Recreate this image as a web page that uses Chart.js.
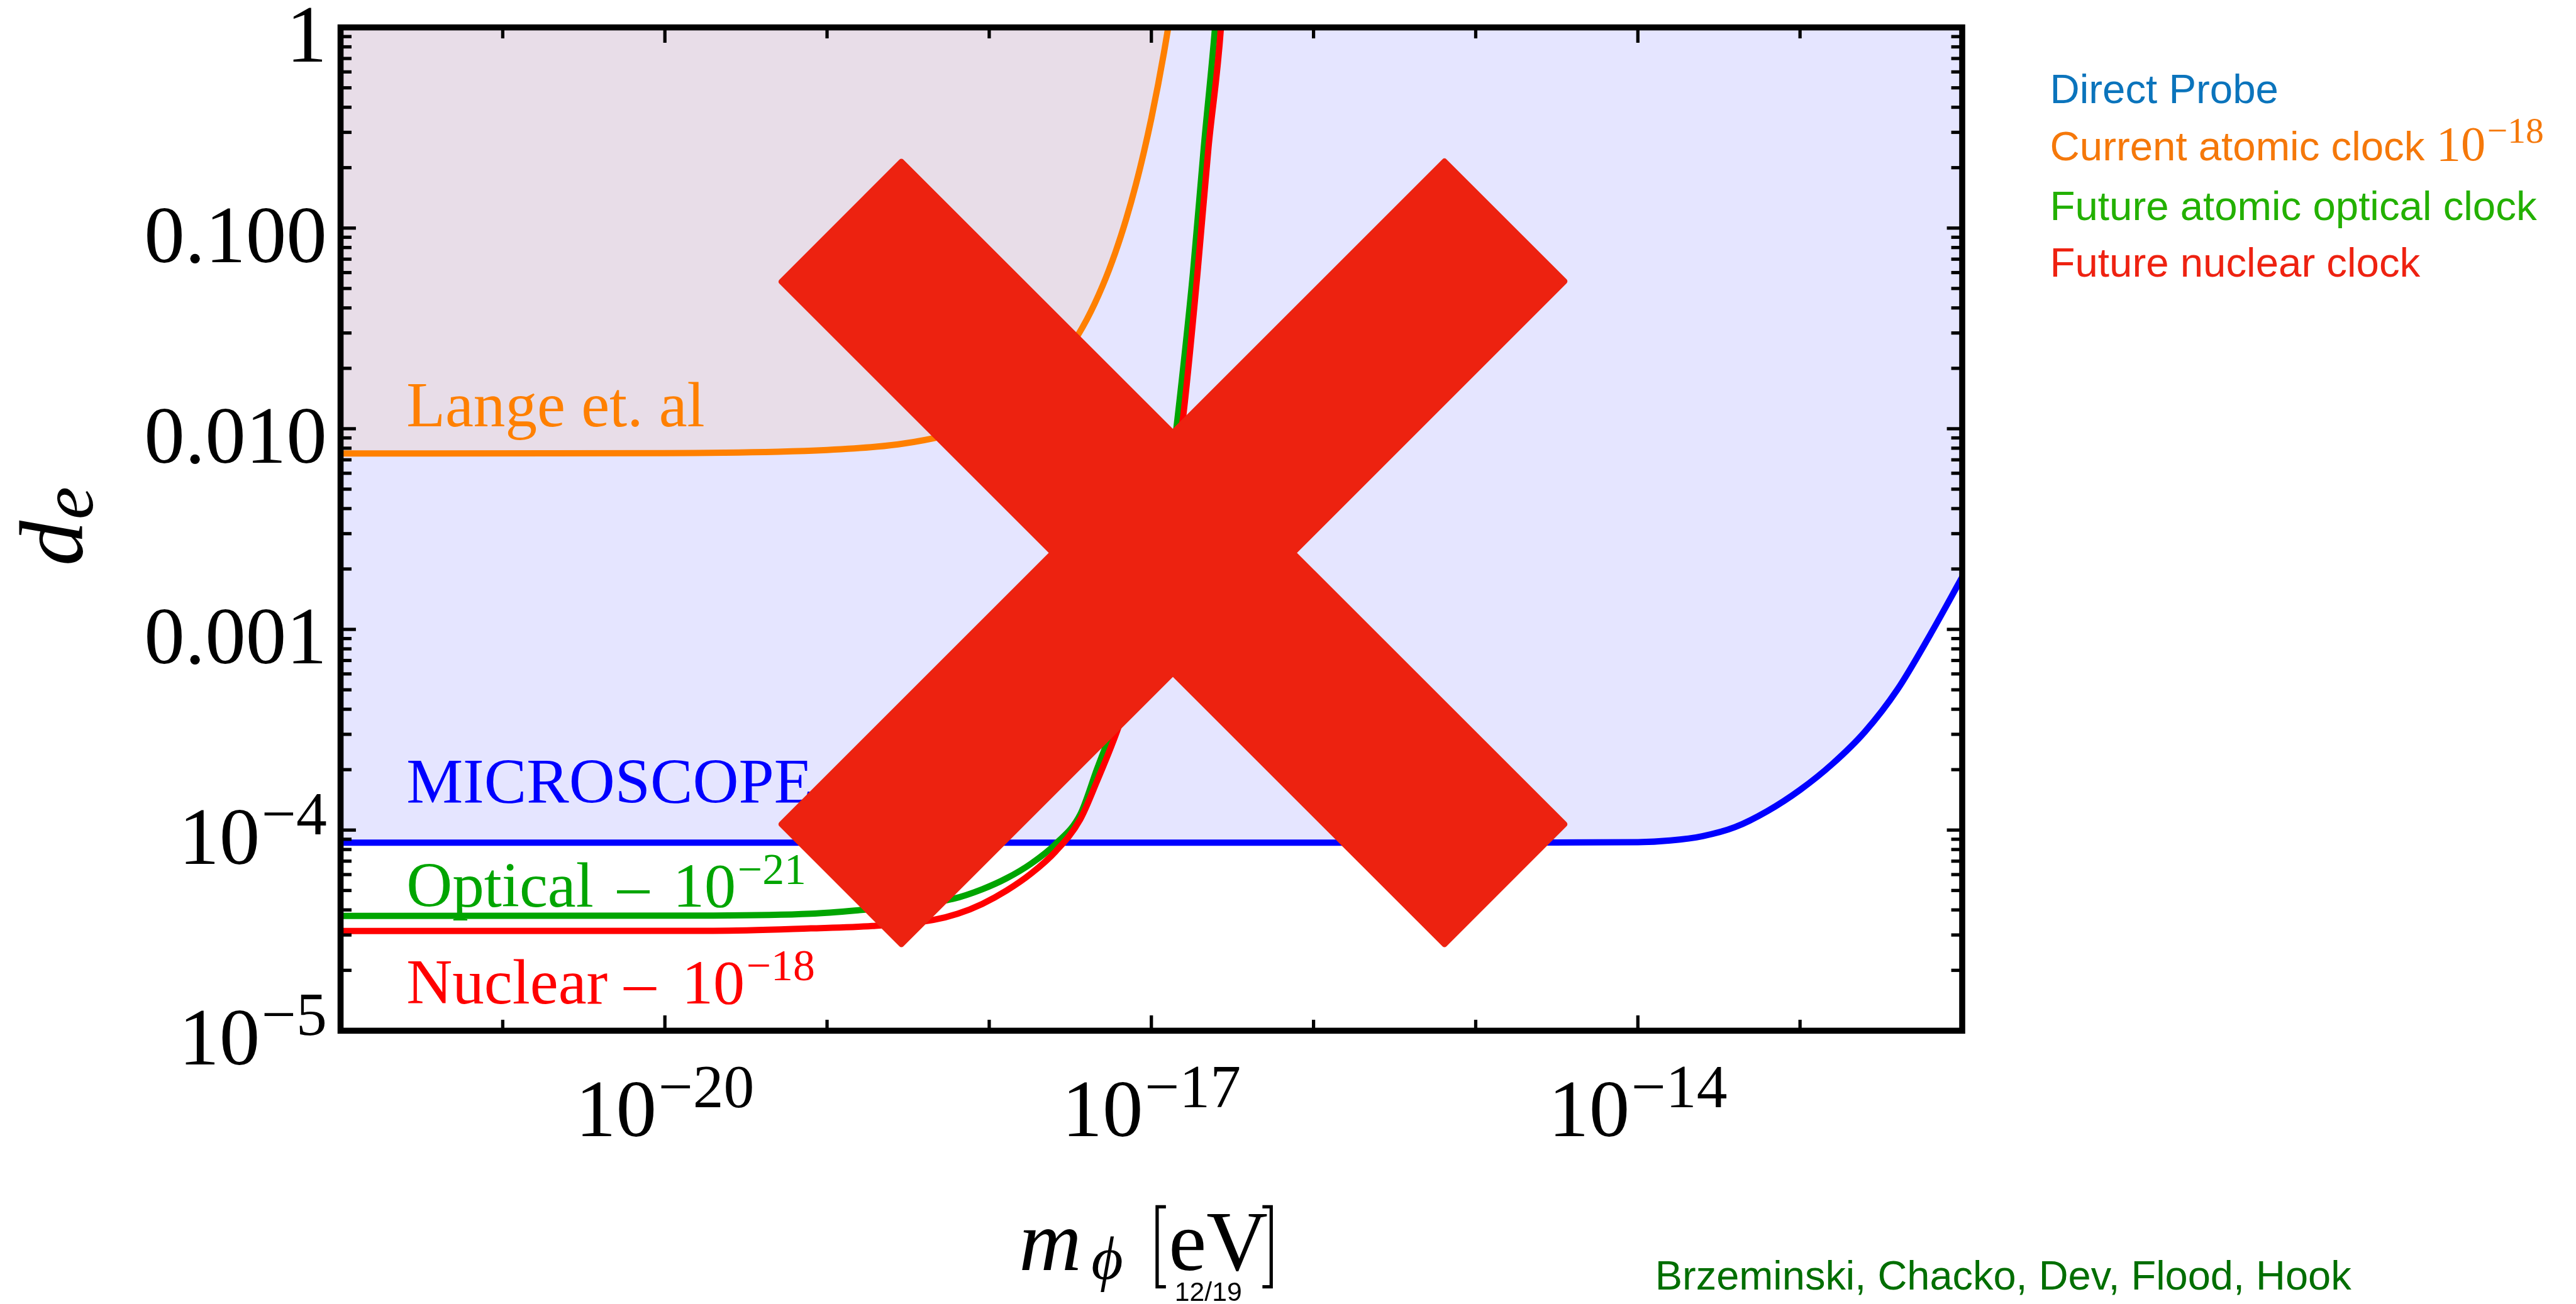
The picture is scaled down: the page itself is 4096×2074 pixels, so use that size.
<!DOCTYPE html>
<html>
<head>
<meta charset="utf-8">
<script src="https://cdn.jsdelivr.net/npm/chart.js@4.4.1/dist/chart.umd.min.js"></script>
<style>
  html, body { margin: 0; padding: 0; background: #ffffff; overflow: hidden; }
  canvas { display: block; }
</style>
</head>
<body>
<canvas id="chart" width="4096" height="2074" style="width:4096px;height:2074px"></canvas>
<script>
// Electron coupling d_e of an ultralight scalar versus its mass m_phi:
// MICROSCOPE bound, current atomic-clock bound (Lange et al.) and
// projected optical / nuclear clock reach.

// MICROSCOPE (direct probe) bound
const massMicroscope = [1e-22, 1e-16, 1e-15, 3e-15, 1e-14, 1.585e-14, 2.512e-14, 3.981e-14, 6.31e-14,
  1e-13, 1.585e-13, 2.512e-13, 3.981e-13, 6.31e-13, 1e-12];
const deMicroscope = [8.65e-5, 8.65e-5, 8.65e-5, 8.67e-5, 8.70e-5, 8.87e-5, 9.33e-5, 1.035e-4, 1.245e-4,
  1.585e-4, 2.138e-4, 3.09e-4, 5.01e-4, 9.33e-4, 1.82e-3];

// Current atomic clock, 10^-18 (Lange et al.)
const massLange = [1e-22, 1e-20, 5e-20, 1e-19, 2e-19, 3e-19, 5e-19, 7e-19, 1e-18, 1.5e-18, 2e-18, 2.5e-18,
  3e-18, 4e-18, 5e-18, 6e-18, 7e-18, 8e-18, 9e-18, 1e-17, 1.1e-17, 1.2e-17, 1.3e-17];
const deLange = [7.53e-3, 7.56e-3, 7.68e-3, 7.83e-3, 8.13e-3, 8.45e-3, 9.13e-3, 9.86e-3, 1.106e-2, 1.341e-2,
  1.625e-2, 1.97e-2, 2.387e-2, 3.507e-2, 5.152e-2, 7.57e-2, 0.1112, 0.1633, 0.24, 0.3525, 0.5178, 0.7607, 1.118];

// Future optical clock, 10^-21
const massOptical = [1e-22, 1.995e-20, 7.94e-20, 1.585e-19, 3.16e-19, 5.97e-19, 9.06e-19, 1.282e-18, 1.816e-18,
  2.57e-18, 3.64e-18, 4.6e-18, 6.31e-18, 7.94e-18, 1e-17, 1.259e-17, 1.439e-17, 1.803e-17, 2.104e-17, 2.472e-17, 2.63e-17];
const deOptical = [3.733e-5, 3.75e-5, 3.828e-5, 3.99e-5, 4.217e-5, 4.539e-5, 5.07e-5, 5.754e-5, 6.808e-5,
  8.531e-5, 1.194e-4, 1.995e-4, 3.981e-4, 7.586e-4, 1.585e-3, 4.467e-3, 1.067e-2, 5.929e-2, 0.2512, 1.009, 1.995];

// Future nuclear clock, 10^-18
const massNuclear = [1e-22, 1.995e-20, 7.94e-20, 1.905e-19, 4.52e-19, 6.4e-19, 9.06e-19, 1.282e-18, 1.816e-18,
  2.57e-18, 3.64e-18, 4.6e-18, 6.31e-18, 7.94e-18, 1e-17, 1.259e-17, 1.574e-17, 1.923e-17, 2.249e-17, 2.685e-17, 2.818e-17];
const deNuclear = [3.141e-5, 3.148e-5, 3.236e-5, 3.327e-5, 3.565e-5, 3.828e-5, 4.285e-5, 5.0e-5, 6.081e-5,
  7.834e-5, 1.13e-4, 1.738e-4, 3.311e-4, 6.026e-4, 1.202e-3, 3.311e-3, 1.167e-2, 5.929e-2, 0.2512, 1.0, 1.995];

// Axes
const xRange = [1e-22, 1e-12];
const yRange = [1e-5, 1];
const xTickValues = [1e-21, 1e-20, 1e-19, 1e-18, 1e-17, 1e-16, 1e-15, 1e-14, 1e-13];
const xTickLabels = ['', '10^-20', '', '', '10^-17', '', '', '10^-14', ''];
const yTickValues = [1e-5, 1e-4, 1e-3, 1e-2, 1e-1, 1];
const yTickLabels = ['10^-5', '10^-4', '0.001', '0.010', '0.100', '1'];

// Key and credits
const legendLabels = ['Direct Probe', 'Current atomic clock', 'Future atomic optical clock', 'Future nuclear clock'];
const legendColors = ['#0B74BC', '#F5780A', '#23B000', '#EE2211'];
const creditText = 'Brzeminski, Chacko, Dev, Flood, Hook';

// Big cross laid over the plot, ends given as log10(mass), log10(d_e)
const crossArms = [
  [[-18.924, -0.958], [-14.810, -4.280]],
  [[-18.924, -4.280], [-14.810, -0.956]]
];

const S = 0.872;               // drawing scale
const W = 4096, H = 2074;
const SERIF = '"Liberation Serif", "Times New Roman", serif';
const SANS = '"Liberation Sans", Arial, Helvetica, sans-serif';
const LINE_W = 11.5 * S;

function pts(xs, ys) { return xs.map((x, i) => ({ x: x, y: ys[i] })); }
function fnt(size, family, style) { return (style ? style + ' ' : '') + (size * S).toFixed(2) + 'px ' + family; }

// Draw "base^sup" text; x, y in canvas px; sizes and raise in unscaled px
function powerText(ctx, label, x, y, baseSize, supSize, raise, align, family, style) {
  family = family || SERIF;
  const parts = label.split('^');
  const base = parts[0];
  const sup = parts.length > 1 ? parts[1].replace('-', '\u2212') : '';
  ctx.font = fnt(baseSize, family, style);
  const wb = ctx.measureText(base).width;
  let ws = 0;
  if (sup) { ctx.font = fnt(supSize, family, style); ws = ctx.measureText(sup).width; }
  const gap = sup ? 3 * S : 0;
  const total = wb + gap + ws;
  let x0 = x;
  if (align === 'right') x0 = x - total;
  else if (align === 'center') x0 = x - total / 2;
  ctx.textAlign = 'left';
  ctx.textBaseline = 'alphabetic';
  ctx.font = fnt(baseSize, family, style);
  ctx.fillText(base, x0, y);
  if (sup) {
    ctx.font = fnt(supSize, family, style);
    ctx.fillText(sup, x0 + wb + gap, y - raise * S);
  }
  return total;
}

function seg(ctx, x1, y1, x2, y2) {
  ctx.beginPath(); ctx.moveTo(x1, y1); ctx.lineTo(x2, y2); ctx.stroke();
}

const overlay = {
  id: 'overlay',
  afterDatasetsDraw(chart) {
    const ctx = chart.ctx, xs = chart.scales.x, ys = chart.scales.y, a = chart.chartArea;
    ctx.save();

    // Curve labels inside the plot
    ctx.fillStyle = '#FF8000';
    ctx.font = fnt(116, SERIF);
    ctx.textAlign = 'left'; ctx.textBaseline = 'alphabetic';
    ctx.fillText('Lange et. al', 741 * S, 778 * S);
    ctx.fillStyle = '#0000FF';
    ctx.fillText('MICROSCOPE', 741 * S, 1465 * S);

    ctx.fillStyle = '#00A500';
    ctx.fillText('Optical', 741 * S, 1654 * S);
    ctx.fillText('\u2013', 1126 * S, 1654 * S);
    powerText(ctx, '10^-21', 1227 * S, 1654 * S, 115, 80, 42, 'left');

    ctx.fillStyle = '#FF0000';
    ctx.font = fnt(116, SERIF);
    ctx.fillText('Nuclear', 741 * S, 1830 * S);
    ctx.fillText('\u2013', 1138 * S, 1830 * S);
    powerText(ctx, '10^-18', 1243 * S, 1830 * S, 115, 80, 42, 'left');

    // Cross
    const w = 320 * S, r = 5 * S;
    ctx.fillStyle = '#ED2210';
    ctx.strokeStyle = '#ED2210';
    ctx.lineWidth = 2 * r;
    ctx.lineJoin = 'round';
    crossArms.forEach(arm => {
      const x1 = xs.getPixelForValue(Math.pow(10, arm[0][0])), y1 = ys.getPixelForValue(Math.pow(10, arm[0][1]));
      const x2 = xs.getPixelForValue(Math.pow(10, arm[1][0])), y2 = ys.getPixelForValue(Math.pow(10, arm[1][1]));
      const len = Math.hypot(x2 - x1, y2 - y1);
      const ux = (x2 - x1) / len, uy = (y2 - y1) / len;
      const nx = -uy, ny = ux;
      const h = w / 2 - r;
      const ax = x1 + ux * r, ay = y1 + uy * r, bx = x2 - ux * r, by = y2 - uy * r;
      ctx.beginPath();
      ctx.moveTo(ax + nx * h, ay + ny * h);
      ctx.lineTo(bx + nx * h, by + ny * h);
      ctx.lineTo(bx - nx * h, by - ny * h);
      ctx.lineTo(ax - nx * h, ay - ny * h);
      ctx.closePath();
      ctx.fill();
      ctx.stroke();
    });

    // Inward ticks on all four sides
    ctx.strokeStyle = '#000000';
    ctx.lineWidth = 6 * S;
    ctx.lineCap = 'butt';
    xTickValues.forEach((v, i) => {
      const px = xs.getPixelForValue(v);
      const len = (xTickLabels[i] ? 28 : 20) * S;
      seg(ctx, px, a.bottom, px, a.bottom - len);
      seg(ctx, px, a.top, px, a.top + len);
    });
    const yMinor = [];
    for (let i = 0; i < yTickValues.length - 1; i++) {
      for (let k = 2; k <= 9; k++) yMinor.push(yTickValues[i] * k);
    }
    yTickValues.forEach(v => {
      const py = ys.getPixelForValue(v);
      seg(ctx, a.left, py, a.left + 28 * S, py);
      seg(ctx, a.right, py, a.right - 28 * S, py);
    });
    yMinor.forEach(v => {
      const py = ys.getPixelForValue(v);
      seg(ctx, a.left, py, a.left + 20 * S, py);
      seg(ctx, a.right, py, a.right - 20 * S, py);
    });

    // Frame
    ctx.lineWidth = 11 * S;
    ctx.lineJoin = 'miter';
    ctx.strokeRect(a.left, a.top, a.right - a.left, a.bottom - a.top);
    ctx.restore();
  },
  afterDraw(chart) {
    const ctx = chart.ctx, xs = chart.scales.x, ys = chart.scales.y, a = chart.chartArea;
    ctx.save();
    ctx.fillStyle = '#000000';

    // Tick labels
    yTickValues.forEach((v, i) => {
      const py = ys.getPixelForValue(v);
      powerText(ctx, yTickLabels[i], 596 * S, py + 62 * S, 148, 112, 54, 'right');
    });
    xTickValues.forEach((v, i) => {
      if (!xTickLabels[i]) return;
      const px = xs.getPixelForValue(v);
      powerText(ctx, xTickLabels[i], px, a.bottom + 192 * S, 148, 112, 52, 'center');
    });

    // y title: d_e
    ctx.save();
    ctx.translate(150 * S, 1032 * S);
    ctx.rotate(-Math.PI / 2);
    ctx.textAlign = 'left'; ctx.textBaseline = 'alphabetic';
    ctx.font = fnt(165, SERIF, 'italic');
    ctx.fillText('d', 0, 0);
    const dw = ctx.measureText('d').width;
    ctx.font = fnt(135, SERIF, 'italic');
    ctx.fillText('e', dw + 2 * S, 19 * S);
    ctx.restore();

    // x title: m_phi [eV]
    ctx.textAlign = 'left'; ctx.textBaseline = 'alphabetic';
    ctx.font = fnt(158, SERIF, 'italic');
    ctx.fillText('m', 1858 * S, 2317 * S);
    ctx.font = fnt(112, SERIF, 'italic');
    ctx.fillText('\u03D5', 1990 * S, 2333 * S);
    ctx.font = fnt(155, SERIF);
    ctx.fillText('eV', 2131 * S, 2317 * S);
    ctx.strokeStyle = '#000000';
    ctx.lineWidth = 6 * S;
    ctx.lineJoin = 'miter';
    ctx.beginPath();
    ctx.moveTo(2126 * S, 2201 * S); ctx.lineTo(2110 * S, 2201 * S);
    ctx.lineTo(2110 * S, 2347 * S); ctx.lineTo(2126 * S, 2347 * S);
    ctx.moveTo(2302 * S, 2201 * S); ctx.lineTo(2318 * S, 2201 * S);
    ctx.lineTo(2318 * S, 2347 * S); ctx.lineTo(2302 * S, 2347 * S);
    ctx.stroke();

    // Page number
    ctx.font = fnt(49, SANS);
    ctx.fillText('12/19', 2142 * S, 2373 * S);

    // Key
    const baselines = [187.5, 292.8, 401.8, 504.4];
    legendLabels.forEach((t, i) => {
      ctx.fillStyle = legendColors[i];
      ctx.font = fnt(75, SANS);
      ctx.textAlign = 'left';
      ctx.fillText(t, 3738 * S, baselines[i] * S);
      if (i === 1) {
        const tw = ctx.measureText(t + ' ').width;
        powerText(ctx, '10^-18', 3738 * S + tw, baselines[i] * S, 90, 66, 33, 'left');
      }
    });

    // Credits
    ctx.fillStyle = '#006E00';
    ctx.font = fnt(74.5, SANS);
    ctx.textAlign = 'left';
    ctx.fillText(creditText, 3018 * S, 2352 * S);
    ctx.restore();
  }
};

function build() {
  const ctx = document.getElementById('chart').getContext('2d');
  new Chart(ctx, {
    type: 'line',
    data: {
      datasets: [
        { label: 'Future nuclear clock', data: pts(massNuclear, deNuclear), borderColor: '#FF0000', borderWidth: LINE_W, fill: false },
        { label: 'Future atomic optical clock', data: pts(massOptical, deOptical), borderColor: '#00A500', borderWidth: LINE_W, fill: false },
        { label: 'Current atomic clock', data: pts(massLange, deLange), borderColor: '#FF8000', borderWidth: LINE_W,
          fill: 'end', backgroundColor: 'rgba(255,128,0,0.09)' },
        { label: 'Direct Probe', data: pts(massMicroscope, deMicroscope), borderColor: '#0000FF', borderWidth: LINE_W,
          fill: 'end', backgroundColor: 'rgba(0,0,255,0.10)' }
      ]
    },
    options: {
      responsive: false,
      animation: false,
      devicePixelRatio: 1,
      parsing: true,
      layout: { padding: { left: 621 * S, right: W - 3578 * S, top: 50 * S, bottom: H - 1880 * S } },
      elements: {
        point: { radius: 0, hoverRadius: 0 },
        line: { cubicInterpolationMode: 'monotone', borderJoinStyle: 'round', borderCapStyle: 'butt' }
      },
      scales: {
        x: { type: 'logarithmic', min: xRange[0], max: xRange[1], display: false },
        y: { type: 'logarithmic', min: yRange[0], max: yRange[1], display: false }
      },
      plugins: {
        legend: { display: false },
        tooltip: { enabled: false },
        filler: { drawTime: 'beforeDatasetsDraw' }
      },
      events: []
    },
    plugins: [overlay]
  });
}

const fontLoads = [
  '100px "Liberation Serif"', 'italic 100px "Liberation Serif"', '100px "Liberation Sans"'
].map(f => document.fonts.load(f));
Promise.all(fontLoads).then(build, build);
</script>
</body>
</html>
